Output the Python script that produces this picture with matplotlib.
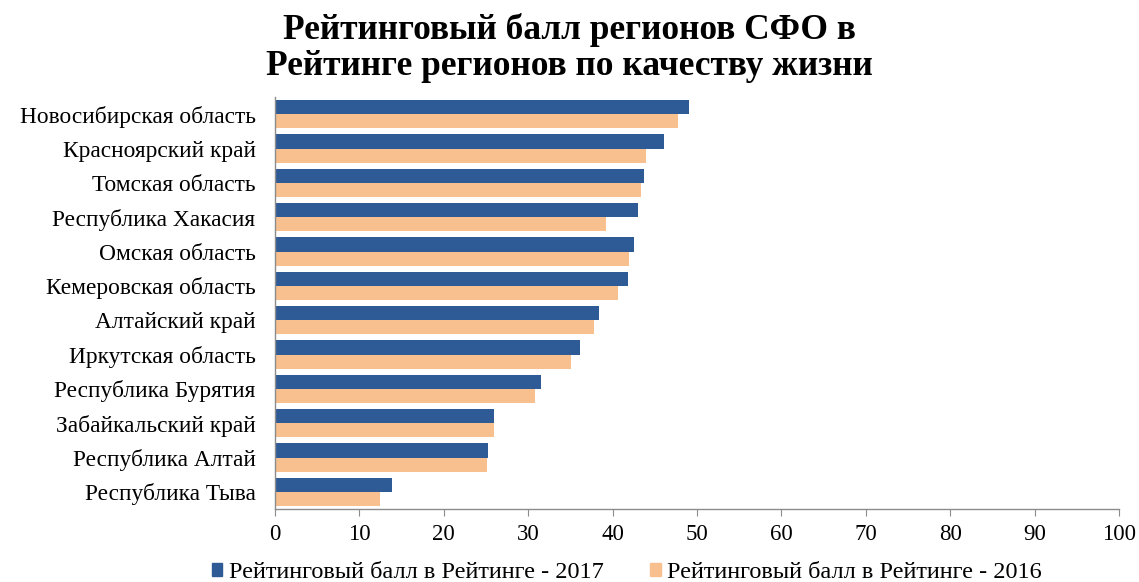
import numpy as np
import matplotlib
matplotlib.use("Agg")
import matplotlib.pyplot as plt
from matplotlib.patches import Patch

# ── Data ─────────────────────────────────────────────────────────────────
regions = [
    "Новосибирская область",
    "Красноярский край",
    "Томская область",
    "Республика Хакасия",
    "Омская область",
    "Кемеровская область",
    "Алтайский край",
    "Иркутская область",
    "Республика Бурятия",
    "Забайкальский край",
    "Республика Алтай",
    "Республика Тыва",
]
score_2017 = [49.1, 46.1, 43.7, 43.0, 42.5, 41.8, 38.4, 36.1, 31.5, 25.9, 25.2, 13.9]
score_2016 = [47.7, 44.0, 43.4, 39.2, 42.0, 40.6, 37.8, 35.1, 30.8, 25.9, 25.1, 12.5]
x_ticks = list(range(0, 101, 10))

BLUE = "#2E5B95"
ORANGE = "#F9C08F"
GREY = "#8C8C8C"

plt.rcParams["font.family"] = ["Liberation Serif", "DejaVu Serif"]

fig = plt.figure(figsize=(11.39, 5.82), dpi=100)
ax = fig.add_axes([0.2414, 0.1254, 0.7410, 0.7079])

y = np.arange(len(regions))[::-1]
h = 0.41
ax.barh(y + h / 2, score_2017, h, color=BLUE)
ax.barh(y - h / 2, score_2016, h, color=ORANGE)

ax.set_xlim(0, 100)
ax.set_ylim(-0.5, len(regions) - 0.5)
ax.set_xticks(x_ticks)
ax.set_yticks(y)
ax.set_yticklabels(regions, fontsize=16.8)
ax.tick_params(axis="y", length=0, pad=14)
ax.tick_params(axis="x", labelsize=16.5, length=5, color=GREY, pad=6)

for side in ("top", "right"):
    ax.spines[side].set_visible(False)
for side in ("left", "bottom"):
    ax.spines[side].set_color(GREY)
    ax.spines[side].set_linewidth(1.0)

fig.suptitle("Рейтинговый балл регионов СФО в\nРейтинге регионов по качеству жизни",
             fontsize=25.5, fontweight="bold", x=0.5, y=0.978, linespacing=1.12)

handles = [Patch(color=BLUE), Patch(color=ORANGE)]
fig.legend(handles, ["Рейтинговый балл в Рейтинге - 2017", "Рейтинговый балл в Рейтинге - 2016"],
           loc="lower center", bbox_to_anchor=(0.55, -0.04), ncol=2, frameon=False,
           fontsize=17.5, handlelength=0.45, handleheight=0.45, handletextpad=0.25,
           columnspacing=1.9)

fig.savefig("out.png", dpi=100)
